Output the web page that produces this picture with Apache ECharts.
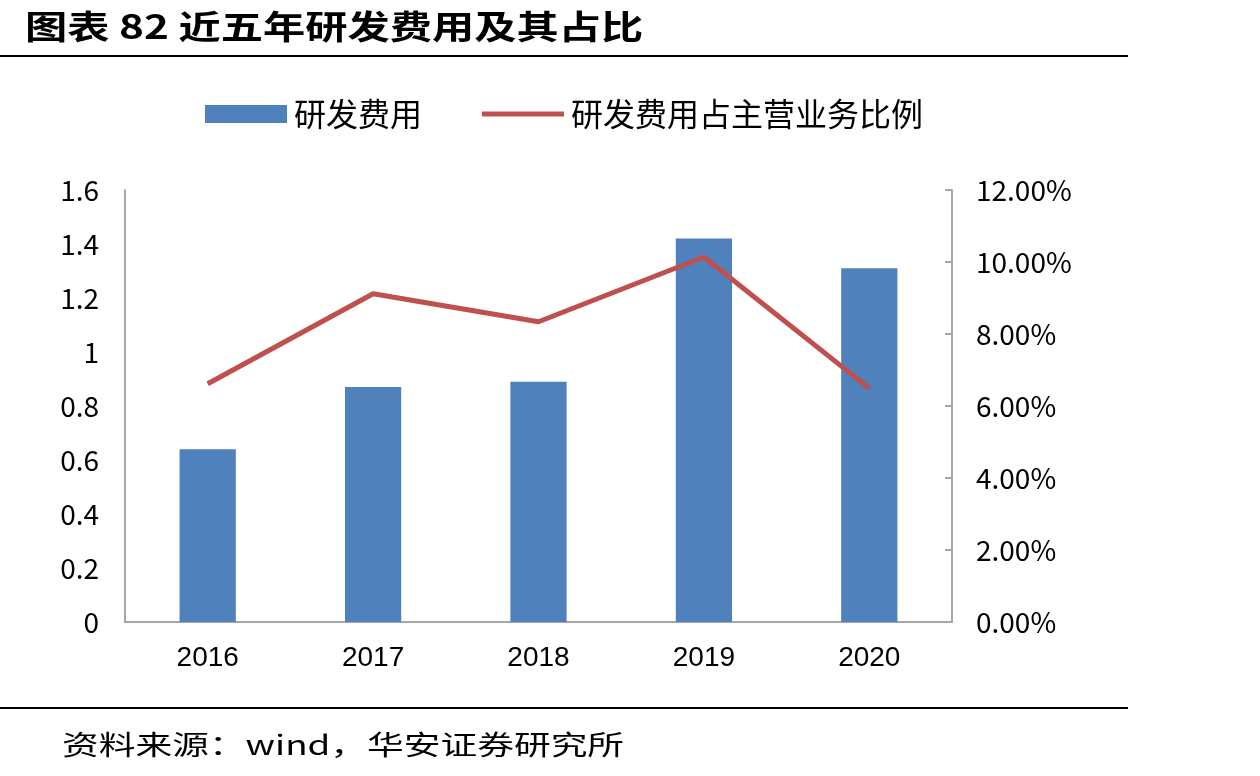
<!DOCTYPE html>
<html>
<head>
<meta charset="utf-8">
<script src="https://cdn.jsdelivr.net/npm/echarts@6/dist/echarts.min.js"></script>
<style>
html, body { margin: 0; padding: 0; background: #fff; }
#main { width: 1260px; height: 776px; }
</style>
</head>
<body>
<div id="main"></div>
<script>
var years = ['2016', '2017', '2018', '2019', '2020'];
var rdCost = [0.64, 0.87, 0.89, 1.42, 1.31];        // 研发费用
var rdRatio = [6.62, 9.12, 8.34, 10.14, 6.49];      // 研发费用占主营业务比例 (%)
var leftTicks = { min: 0, max: 1.6, interval: 0.2 };
var rightTicks = { min: 0, max: 12, interval: 2 };

var cjk = '"Noto Sans CJK SC", "Noto Sans", sans-serif';
var myChart = echarts.init(document.getElementById('main'));

myChart.setOption({
    animation: false,
    graphic: [
        // 标题和资料来源, 字体横向拉宽一点接近原图
        {
            type: 'text', x: 25, y: 26, scaleX: 1.28, scaleY: 1,
            style: { text: '图表 82 近五年研发费用及其占比', font: 'bold 33px ' + cjk, fill: '#000', textVerticalAlign: 'middle' }
        },
        {
            type: 'text', x: 62, y: 745, scaleX: 1.36, scaleY: 1,
            style: { text: '资料来源：wind，华安证券研究所', font: '27px ' + cjk, fill: '#000', textVerticalAlign: 'middle' }
        },
        { type: 'rect', shape: { x: 0, y: 55, width: 1128, height: 2 }, style: { fill: '#000' } },
        { type: 'rect', shape: { x: 0, y: 707, width: 1128, height: 2 }, style: { fill: '#000' } }
    ],
    legend: {
        top: 93, left: 200,
        itemGap: 60,
        itemWidth: 82, itemHeight: 18,
        textStyle: { fontFamily: cjk, fontSize: 32, color: '#000', padding: [0, 0, 0, 2] },
        data: [
            { name: '研发费用', icon: 'rect' },
            { name: '研发费用占主营业务比例', icon: 'path://M0,0 L86,0 L86,5 L0,5 Z', itemStyle: { color: '#C0504D' } }
        ]
    },
    grid: { left: 125, right: 308, top: 190, bottom: 154 },
    xAxis: {
        type: 'category',
        data: years,
        axisLine: { lineStyle: { color: '#A6A6A6', width: 2 } },
        axisTick: { show: false },
        axisLabel: { fontFamily: 'Liberation Sans Narrow, Liberation Sans, sans-serif', fontSize: 28, color: '#000', margin: 22 }
    },
    yAxis: [{
        type: 'value',
        min: leftTicks.min, max: leftTicks.max, interval: leftTicks.interval,
        axisLine: { show: true, lineStyle: { color: '#A6A6A6', width: 2 } },
        axisTick: { show: false },
        splitLine: { show: false },
        axisLabel: {
            fontFamily: cjk, fontSize: 28, color: '#000', margin: 26,
            formatter: function (v) { return Math.round(v * 10) / 10 + ''; }
        }
    }, {
        type: 'value',
        min: rightTicks.min, max: rightTicks.max, interval: rightTicks.interval,
        axisLine: { show: true, lineStyle: { color: '#A6A6A6', width: 2 } },
        axisTick: { show: true, inside: true, length: 7, lineStyle: { color: '#A6A6A6', width: 2 } },
        splitLine: { show: false },
        axisLabel: {
            fontFamily: cjk, fontSize: 28, color: '#000', margin: 24,
            formatter: function (v) { return v.toFixed(2) + '%'; }
        }
    }],
    series: [{
        name: '研发费用',
        type: 'bar',
        data: rdCost,
        barWidth: '34%',
        itemStyle: { color: '#4F81BD' }
    }, {
        name: '研发费用占主营业务比例',
        type: 'line',
        yAxisIndex: 1,
        data: rdRatio,
        symbol: 'none',
        lineStyle: { color: '#C0504D', width: 5 },
        itemStyle: { color: '#C0504D' }
    }]
});
</script>
</body>
</html>
